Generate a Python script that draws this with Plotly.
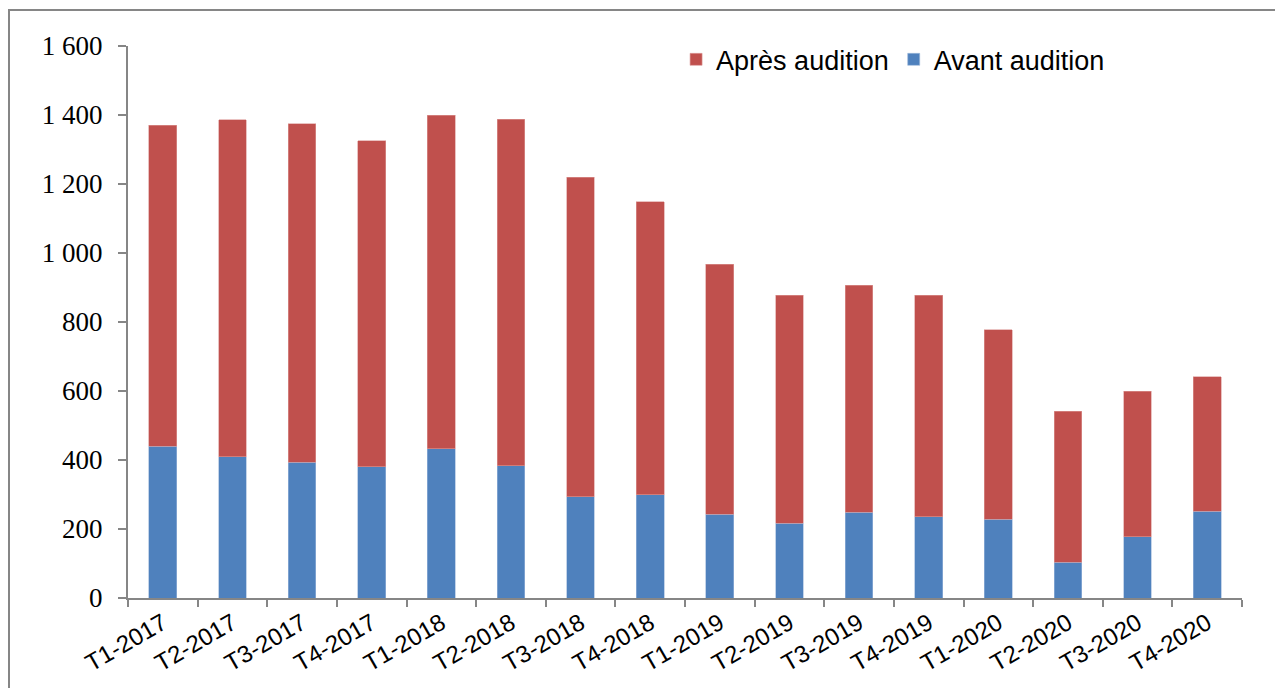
import plotly.graph_objects as go

categories = ["T1-2017", "T2-2017", "T3-2017", "T4-2017",
              "T1-2018", "T2-2018", "T3-2018", "T4-2018",
              "T1-2019", "T2-2019", "T3-2019", "T4-2019",
              "T1-2020", "T2-2020", "T3-2020", "T4-2020"]
totals = [1371, 1386, 1374, 1325, 1400, 1388, 1220, 1148,
          968, 878, 907, 878, 777, 542, 600, 641]
avant = [440, 409, 394, 380, 432, 383, 293, 299,
         243, 217, 249, 235, 229, 104, 177, 252]
apres = [t - a for t, a in zip(totals, avant)]
y_ticks = [0, 200, 400, 600, 800, 1000, 1200, 1400, 1600]
y_labels = ["0", "200", "400", "600", "800", "1 000", "1 200", "1 400", "1 600"]

fig = go.Figure()
fig.add_trace(go.Bar(x=categories, y=avant, name="Avant audition",
                     marker=dict(color="#4F81BD", line=dict(color="#9DB8DA", width=0.6)),
                     width=0.4))
fig.add_trace(go.Bar(x=categories, y=apres, name="Après audition",
                     marker=dict(color="#C0504D", line=dict(color="#DC9A98", width=0.6)),
                     width=0.4))

PW, PH = 1114, 552
fig.update_layout(
    barmode="stack",
    width=1275, height=680,
    margin=dict(l=120, r=41, t=38, b=90),
    paper_bgcolor="white", plot_bgcolor="white",
    showlegend=True,
    legend=dict(orientation="h", x=0.492, y=0.975, xanchor="left", yanchor="middle",
                traceorder="reversed",
                font=dict(family="Liberation Sans, Arial", size=27, color="black"),
                itemwidth=30, bgcolor="rgba(0,0,0,0)"),
    xaxis=dict(type="category", showline=True, linecolor="#868686", linewidth=2,
               ticks="outside", tickson="boundaries", ticklen=7, tickwidth=2,
               tickcolor="#868686", tickangle=-30, automargin=False,
               tickfont=dict(family="Liberation Sans, Arial", size=24, color="black"),
               showgrid=False),
    yaxis=dict(range=[0, 1600], tickvals=y_ticks, ticktext=y_labels,
               showline=True, linecolor="#868686", linewidth=2,
               ticks="outside", ticklen=8, tickwidth=2, tickcolor="#868686",
               ticklabelstandoff=10, automargin=False,
               tickfont=dict(family="Liberation Serif, serif", size=27, color="black"),
               showgrid=False, zeroline=False),
    shapes=[dict(type="rect", xref="paper", yref="paper",
                 x0=-119 / PW, x1=1.0 + 38 / PW, y0=-110 / PH, y1=1.0 + 36 / PH,
                 line=dict(color="#868686", width=2), fillcolor="rgba(0,0,0,0)")],
)

fig.write_html("out.html")
